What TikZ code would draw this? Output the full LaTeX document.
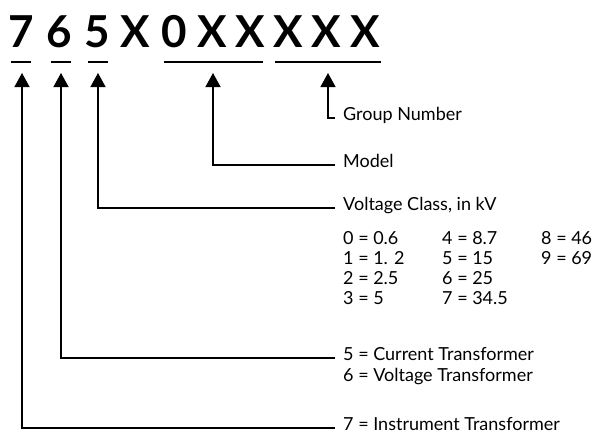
\documentclass[tikz,border=0pt]{standalone}
\usepackage{fontspec}
\setmainfont{Lato}
\usepackage{tikz}
\usetikzlibrary{arrows.meta,positioning}

\begin{document}
\begin{tikzpicture}[x=1pt, y=-1pt,
    digit/.style={font=\fontsize{44}{44}\selectfont\bfseries, inner sep=0pt, anchor=base},
    lbl/.style={font=\fontsize{18}{20}\selectfont, inner sep=0pt, anchor=mid west},
    lead/.style={-{Triangle[length=14pt, width=15pt]}, line width=1.3pt, shorten <=8pt},
    bar/.style={line width=2pt}]
    \useasboundingbox (0,0) rectangle (603,440);

    % catalog number
    \foreach \ch [count=\i] in {7,6,5,X,0,X,X,X,X,X}
        \node[digit] (c\i) at ({21+38.2*(\i-1)},47) {\ch};

    % underlines
    \draw[bar] (11,62) -- (31,62);
    \draw[bar] (51,62) -- (71,62);
    \draw[bar] (88,62) -- (108,62);
    \draw[bar] (164,62) -- (263,62);
    \draw[bar] (275,62) -- (381,62);

    \coordinate (t7) at (22,73);
    \coordinate (t6) at (61,73);
    \coordinate (t5) at (98,73);
    \coordinate (tm) at (213,73);
    \coordinate (tg) at (328,73);

    % labels
    \node[lbl] (grp) at (343,118) {Group Number};
    \node[lbl] (mdl) at (343,165) {Model};
    \node[lbl] (vcl) at (343,208) {Voltage Class, in kV};
    \node[lbl] (v0) at (343,242) {0 = 0.6};
    \node[lbl] (v1) at (343,262) {1 = 1. 2};
    \node[lbl] (v2) at (343,282) {2 = 2.5};
    \node[lbl] (v3) at (343,302) {3 = 5};
    \node[lbl] (v4) at (442,242) {4 = 8.7};
    \node[lbl] (v5) at (442,262) {5 = 15};
    \node[lbl] (v6) at (442,282) {6 = 25};
    \node[lbl] (v7) at (442,302) {7 = 34.5};
    \node[lbl] (v8) at (541,242) {8 = 46};
    \node[lbl] (v9) at (541,262) {9 = 69};
    \node[lbl] (ct) at (343,358) {5 = Current Transformer};
    \node[lbl] (vt) at (343,379) {6 = Voltage Transformer};
    \node[lbl] (it) at (343,428) {7 = Instrument Transformer};

    % leaders
    \draw[lead] (grp.mid west) -| (tg);
    \draw[lead] (mdl.mid west) -| (tm);
    \draw[lead] (vcl.mid west) -| (t5);
    \draw[lead] (ct.mid west) -| (t6);
    \draw[lead] (it.mid west) -| (t7);
\end{tikzpicture}
\end{document}
